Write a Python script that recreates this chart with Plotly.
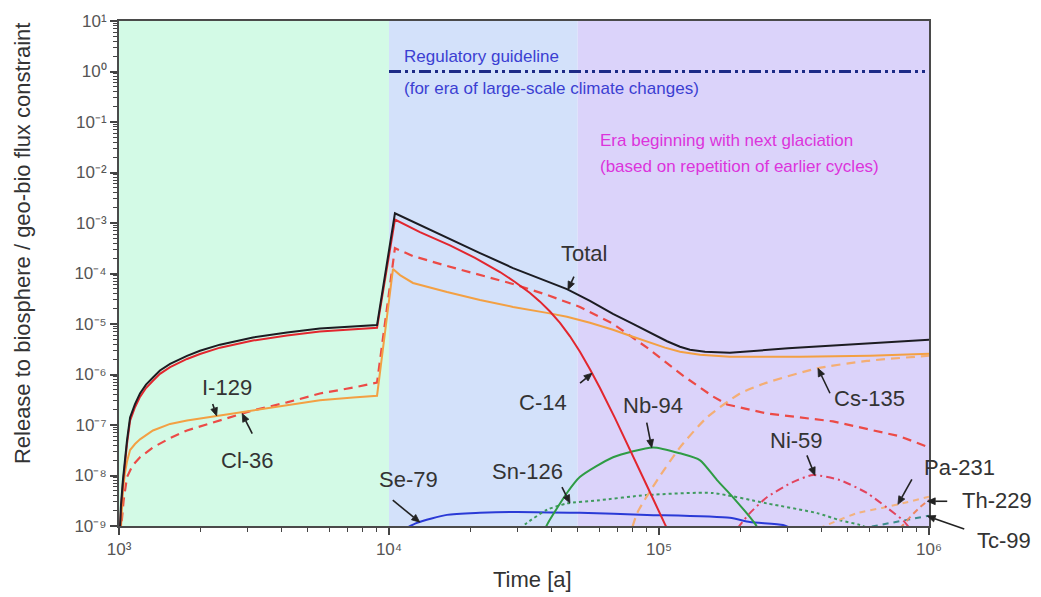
import math
import numpy as np
import plotly.graph_objects as go

# ---- era shading (time boundaries, years) ----
era_edges = [1e3, 1e4, 5e4, 1e6]
era_colors = ["#d3fae6", "#d3e1fa", "#dbd3fa"]

# ---- regulatory guideline ----
guide_t = [1e4, 1e6]
guide_v = [1.0, 1.0]

# ---- release curves: time [a] and release / geo-bio flux constraint ----
total_t = [1004, 1017, 1034, 1052, 1071, 1099, 1146, 1196, 1259, 1336, 1418, 1546, 1786, 1995,
           2366, 3133, 4189, 5546, 7360, 9030,
           10520, 13020, 16400, 21730, 28800, 38460, 45620, 55500, 67530, 80100, 95000,
           107100, 119600, 130200, 148100, 183000, 300500, 500000, 1000000]
total_v = [5.2e-10, 2.6e-9, 8.1e-9, 2.2e-8, 5.0e-8, 1.41e-7, 2.6e-7, 4.2e-7, 6.3e-7, 8.7e-7,
           1.2e-6, 1.62e-6, 2.34e-6, 2.95e-6, 3.9e-6, 5.4e-6, 6.8e-6, 8.1e-6, 8.9e-6, 9.5e-6,
           1.56e-3, 9.1e-4, 5.0e-4, 2.54e-4, 1.28e-4, 7.1e-5, 4.9e-5, 2.87e-5, 1.59e-5, 1.01e-5,
           6.4e-6, 4.56e-6, 3.55e-6, 3.1e-6, 2.83e-6, 2.7e-6, 3.3e-6, 3.9e-6, 4.9e-6]

c14_t = [1004, 1017, 1034, 1052, 1071, 1099, 1146, 1196, 1259, 1336, 1418, 1546, 1786, 1995,
         2366, 3133, 4189, 5546, 7360, 9030,
         10520, 13020, 16820, 20820, 25770, 29290, 33290, 36250, 39470, 42980, 46810, 50960,
         55500, 60450, 68710, 78100, 90300, 105250, 114600]
c14_v = [4.0e-10, 2.1e-9, 6.8e-9, 1.9e-8, 4.3e-8, 1.22e-7, 2.25e-7, 3.6e-7, 5.4e-7, 7.5e-7,
         1.03e-6, 1.4e-6, 2.03e-6, 2.55e-6, 3.4e-6, 4.7e-6, 5.9e-6, 7.1e-6, 7.8e-6, 8.4e-6,
         1.17e-3, 6.6e-4, 3.6e-4, 2.04e-4, 1.07e-4, 6.8e-5, 4.1e-5, 2.77e-5, 1.77e-5, 1.05e-5,
         5.7e-6, 2.82e-6, 1.27e-6, 5.4e-7, 1.37e-7, 3.3e-8, 6.2e-9, 1.08e-9, 4.1e-10]

cl36_t = [1004, 1020, 1040, 1071, 1120, 1196, 1336, 1546, 1786, 2366, 3133, 4189, 5546, 7360,
          9030,
          10520, 12270, 16400, 21730, 28800, 38460, 50960, 67530, 90300, 122700, 158500,
          178600, 251200, 441000, 781000, 1000000]
cl36_v = [1.6e-10, 1.0e-9, 3.2e-9, 9.3e-9, 1.55e-8, 2.3e-8, 3.6e-8, 5.5e-8, 7.8e-8, 1.23e-7,
          1.95e-7, 2.8e-7, 4.2e-7, 5.5e-7, 6.9e-7,
          3.18e-4, 2.21e-4, 1.41e-4, 9.3e-5, 6.2e-5, 3.77e-5, 2.18e-5, 1.01e-5, 3.4e-6, 9.5e-7,
          3.66e-7, 2.55e-7, 1.69e-7, 1.18e-7, 5.96e-8, 3.6e-8]

i129_t = [1004, 1017, 1034, 1052, 1071, 1099, 1146, 1196, 1336, 1546, 1786, 2366, 3133, 4189,
          5546, 7360, 9030,
          10347, 10985, 12270, 14190, 16400, 21730, 28800, 38460, 45620, 55500, 67530, 78100,
          90300, 105250, 119600, 141900, 183000, 332800, 604600, 1000000]
i129_v = [2.5e-10, 1.26e-9, 5.0e-9, 1.12e-8, 1.9e-8, 3.2e-8, 4.2e-8, 5.2e-8, 7.8e-8, 1.05e-7,
          1.23e-7, 1.55e-7, 1.95e-7, 2.45e-7, 3.1e-7, 3.5e-7, 3.8e-7,
          1.23e-4, 9.3e-5, 6.5e-5, 5.2e-5, 4.3e-5, 3.0e-5, 2.18e-5, 1.66e-5, 1.39e-5, 1.06e-5,
          7.7e-6, 5.85e-6, 4.46e-6, 3.4e-6, 2.83e-6, 2.47e-6, 2.25e-6, 2.25e-6, 2.36e-6, 2.58e-6]

cs135_t = [77000, 83000, 98500, 119600, 150500, 199600, 251000, 385000, 589000, 1000000]
cs135_v = [5.0e-10, 1.8e-9, 8.1e-9, 3.6e-8, 1.41e-7, 4.2e-7, 6.9e-7, 1.32e-6, 1.86e-6, 2.35e-6]

nb94_t = [37500, 38800, 45600, 50900, 67600, 95000, 119600, 142000, 164000, 188000, 227000, 235000]
nb94_v = [7.9e-10, 1.15e-9, 4.5e-9, 9.3e-9, 2.3e-8, 3.6e-8, 2.75e-8, 2.0e-8, 8.1e-9, 3.7e-9,
          1.1e-9, 7.9e-10]

sn126_t = [30600, 32400, 38500, 45600, 58900, 90300, 158000, 251000, 385000, 468000, 555000, 600000]
sn126_v = [8.9e-10, 1.15e-9, 2.1e-9, 2.8e-9, 3.2e-9, 4.1e-9, 4.5e-9, 2.8e-9, 1.8e-9, 1.3e-9,
           1.05e-9, 8.9e-10]

se79_t = [11000, 12700, 16400, 21700, 28800, 50900, 90300, 183000, 217000, 288000, 310000]
se79_v = [7.9e-10, 1.15e-9, 1.66e-9, 1.82e-9, 1.9e-9, 1.82e-9, 1.66e-9, 1.45e-9, 1.2e-9,
          1.05e-9, 8.9e-10]

ni59_t = [195000, 217000, 251000, 313000, 372000, 468000, 589000, 699000, 801000, 850000]
ni59_v = [8.9e-10, 1.8e-9, 3.7e-9, 7.4e-9, 1.02e-8, 8.1e-9, 4.5e-9, 2.3e-9, 1.3e-9, 8.9e-10]

pa231_t = [390000, 541000, 676000, 830000, 1000000]
pa231_v = [8.9e-10, 1.8e-9, 2.3e-9, 2.95e-9, 3.8e-9]

th229_t = [780000, 860000, 930000, 1000000]
th229_v = [8.9e-10, 1.6e-9, 2.4e-9, 3.3e-9]

tc99_t = [560000, 700000, 850000, 1000000]
tc99_v = [8.9e-10, 1.12e-9, 1.38e-9, 1.6e-9]

# ---- axis ticks ----
x_decades = [3, 4, 5, 6]
y_decades = [-9, -8, -7, -6, -5, -4, -3, -2, -1, 0, 1]
X_RANGE = [3, 6]
Y_RANGE = [-9, 1]

FONT = "Liberation Sans, Arial, sans-serif"
LABEL_COLOR = "#333333"

SUPERSCRIPT = str.maketrans("-0123456789", "⁻⁰¹²³⁴⁵⁶⁷⁸⁹")


def power_label(d):
    return "10" + str(d).translate(SUPERSCRIPT)


# series: (name, t, v, colour, width, dash, shape) drawn bottom to top
series = [
    ("Se-79", se79_t, se79_v, "#2a3ad6", 2, "solid", "spline"),
    ("Sn-126", sn126_t, sn126_v, "#3f9a5e", 2, "3px,3px", "spline"),
    ("Nb-94", nb94_t, nb94_v, "#2e9c44", 2, "solid", "spline"),
    ("Tc-99", tc99_t, tc99_v, "#3c8c8c", 2, "6px,5px", "linear"),
    ("Pa-231", pa231_t, pa231_v, "#f2b27e", 2, "6px,5px", "spline"),
    ("Th-229", th229_t, th229_v, "#ee8660", 2, "6px,4px", "linear"),
    ("Ni-59", ni59_t, ni59_v, "#e2445e", 2, "8px,4px,2px,4px", "spline"),
    ("Cs-135", cs135_t, cs135_v, "#f4ae74", 2.2, "9px,6px", "spline"),
    ("Cl-36", cl36_t, cl36_v, "#ec4a46", 2.2, "9px,6px", "linear"),
    ("I-129", i129_t, i129_v, "#f3a043", 2, "solid", "linear"),
    ("C-14", c14_t, c14_v, "#e2262e", 2, "solid", "linear"),
    ("Total", total_t, total_v, "#1c1c22", 2, "solid", "linear"),
]

fig = go.Figure()

# era background bands
for x0, x1, col in zip(era_edges[:-1], era_edges[1:], era_colors):
    fig.add_shape(type="rect", xref="x", yref="paper", x0=x0, x1=x1, y0=0, y1=1,
                  fillcolor=col, line_width=0, layer="below")

fig.add_trace(go.Scatter(x=guide_t, y=guide_v, mode="lines",
                         line=dict(color="#1c2a86", width=3, dash="12px,4px,3px,4px,3px,4px"),
                         hoverinfo="skip"))

for name, t, v, col, w, dash, shape in series:
    line = dict(color=col, width=w, dash=dash, shape=shape)
    if shape == "spline":
        line["smoothing"] = 0.6
    fig.add_trace(go.Scatter(x=t, y=v, mode="lines", name=name, line=line))


def point_on(ts, vs, t):
    """Log-log interpolated point on a series, in log axis coordinates."""
    lx = np.log10(t)
    ly = np.interp(lx, np.log10(ts), np.log10(vs))
    return float(lx), float(ly)


data = {s[0]: (s[1], s[2]) for s in series}

# pointer arrows: (series, time of arrow tip, tail offset x px, tail offset y px, screen down +)
arrows = [
    ("Total", 4.6e4, 6, -13),
    ("I-129", 2.3e3, -4, -12),
    ("Cl-36", 2.86e3, 10, 20),
    ("C-14", 5.65e4, -12, 10),
    ("Nb-94", 9.4e4, -5, -25),
    ("Sn-126", 4.68e4, -8, -16),
    ("Se-79", 1.3e4, -27, -22),
    ("Cs-135", 3.88e5, 12, 25),
    ("Ni-59", 3.78e5, -8, -20),
    ("Pa-231", 7.67e5, 14, -25),
    ("Th-229", 9.85e5, 20, 0),
    ("Tc-99", 9.85e5, 37, 13),
]
HEAD_LEN, HEAD_HALF = 8.0, 3.4
for name, t, dx, dy in arrows:
    ts, vs = data[name]
    lx, ly = point_on(ts, vs, t)
    ax_frac = (lx - X_RANGE[0]) / (X_RANGE[1] - X_RANGE[0])
    ay_frac = (ly - Y_RANGE[0]) / (Y_RANGE[1] - Y_RANGE[0])
    # pixel offsets with y pointing up (shape pixel convention)
    tx, ty = float(dx), float(-dy)
    length = math.hypot(tx, ty)
    ux, uy = -tx / length, -ty / length          # unit vector tail -> tip
    bx, by = -ux * HEAD_LEN, -uy * HEAD_LEN      # base of head
    px_, py_ = -uy * HEAD_HALF, ux * HEAD_HALF   # perpendicular
    common = dict(xref="paper", yref="paper", xsizemode="pixel", ysizemode="pixel",
                  xanchor=ax_frac, yanchor=ay_frac, layer="above")
    fig.add_shape(type="path", path=f"M{tx:.2f},{ty:.2f} L{bx:.2f},{by:.2f}",
                  line=dict(color="#222222", width=1.6), **common)
    fig.add_shape(type="path",
                  path=(f"M0,0 L{bx + px_:.2f},{by + py_:.2f} "
                        f"L{bx - px_:.2f},{by - py_:.2f} Z"),
                  fillcolor="#222222", line=dict(color="#222222", width=0.8), **common)

# nuclide labels (paper coordinates)
labels = [
    ("Total", 0.574, 0.540),
    ("I-129", 0.133, 0.274),
    ("Cl-36", 0.159, 0.130),
    ("C-14", 0.523, 0.245),
    ("Nb-94", 0.659, 0.239),
    ("Sn-126", 0.504, 0.107),
    ("Se-79", 0.358, 0.093),
    ("Cs-135", 0.927, 0.252),
    ("Ni-59", 0.837, 0.170),
    ("Pa-231", 1.038, 0.116),
    ("Th-229", 1.084, 0.051),
    ("Tc-99", 1.092, -0.028),
]
for text, x, y in labels:
    fig.add_annotation(x=x, y=y, xref="paper", yref="paper", text=text, showarrow=False,
                       xanchor="center", yanchor="middle",
                       font=dict(family=FONT, size=22, color=LABEL_COLOR))

# era notes
notes = [
    ("Regulatory guideline", 402, 55, "#3b3fd2"),
    ("(for era of large-scale climate changes)", 402, 87, "#3b3fd2"),
    ("Era beginning with next glaciation", 598, 139, "#dc34dc"),
    ("(based on repetition of earlier cycles)", 598, 165, "#dc34dc"),
]
for text, px, py, col in notes:
    fig.add_annotation(x=(px - 119) / 810, y=(526 - py) / 507, xref="paper", yref="paper",
                       text=text, showarrow=False, xanchor="left", yanchor="middle",
                       font=dict(family=FONT, size=17, color=col))

# axis titles
fig.add_annotation(x=(22 - 119) / 810, y=(526 - 243) / 507, xref="paper", yref="paper",
                   text="Release to biosphere / geo-bio flux constraint", textangle=-90,
                   showarrow=False, xanchor="center", yanchor="middle",
                   font=dict(family=FONT, size=22, color=LABEL_COLOR))
fig.add_annotation(x=(532 - 119) / 810, y=(526 - 580) / 507, xref="paper", yref="paper",
                   text="Time [a]", showarrow=False, xanchor="center", yanchor="middle",
                   font=dict(family=FONT, size=22, color=LABEL_COLOR))

x_minor = [m * 10 ** d for d in x_decades[:-1] for m in range(2, 10)]
y_minor = [m * 10.0 ** d for d in y_decades[:-1] for m in range(2, 10)]

axis_common = dict(showgrid=False, zeroline=False, showline=True, linecolor="#4a4a4a",
                   linewidth=2, mirror=True, ticks="outside", ticklen=7, tickwidth=1.6,
                   tickcolor="#444444", tickfont=dict(family=FONT, size=17, color="#555555"))

fig.update_xaxes(type="log", range=X_RANGE,
                 tickvals=[10.0 ** d for d in x_decades],
                 ticktext=[power_label(d) for d in x_decades],
                 minor=dict(tickvals=x_minor, ticks="outside", ticklen=4, tickwidth=1.2,
                            tickcolor="#444444"),
                 **axis_common)
fig.update_yaxes(type="log", range=Y_RANGE,
                 tickvals=[10.0 ** d for d in y_decades],
                 ticktext=[power_label(d) for d in y_decades],
                 minor=dict(tickvals=y_minor, ticks="outside", ticklen=4, tickwidth=1.2,
                            tickcolor="#444444"),
                 **axis_common)

fig.update_layout(width=1041, height=597, margin=dict(l=119, r=112, t=19, b=71),
                  paper_bgcolor="white", plot_bgcolor="white", showlegend=False,
                  font=dict(family=FONT))

fig.write_html("out.html")
